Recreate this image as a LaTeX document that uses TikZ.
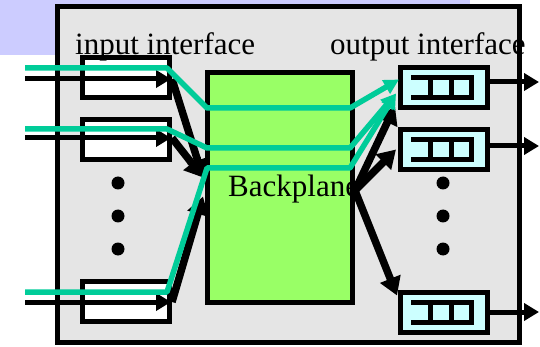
\documentclass[tikz,border=0pt]{standalone}
\usepackage{fontspec}
\setmainfont{Liberation Serif}
\usetikzlibrary{arrows.meta,positioning,calc}
\definecolor{lavender}{RGB}{204,204,255}
\definecolor{panelgray}{RGB}{229,229,229}
\definecolor{planegreen}{RGB}{153,255,102}
\definecolor{queuecyan}{RGB}{204,255,255}
\definecolor{flowteal}{RGB}{0,204,153}

\begin{document}
\begin{tikzpicture}[x=1pt,y=-1pt,
  inbox/.style={draw,line width=5pt,fill=white,minimum width=87pt,minimum height=40pt,inner sep=0pt},
  outbox/.style={draw,line width=5pt,fill=queuecyan,minimum width=87pt,minimum height=40pt,inner sep=0pt},
  bigtext/.style={font=\fontsize{31}{34}\selectfont,anchor=base west,inner sep=0pt},
  thinarrow/.style={line width=5pt,-{Triangle[length=15pt,width=17pt]}},
  fatarrow/.style={line width=7.5pt,-{Triangle[length=18pt,width=21pt]}},
  flow/.style={flowteal,line width=5.5pt,line join=round,-{Triangle[length=15pt,width=15pt]}}]
  \useasboundingbox (0,0) rectangle (540,347);
  % background and router panel
  \fill[lavender] (0,0) rectangle (470,55);
  \draw[line width=5pt,fill=panelgray] (57.5,7) rectangle (519.5,342.5);
  \node[draw,line width=5pt,fill=planegreen,minimum width=145pt,minimum height=230pt] (bp) at (280,187.5) {};
  \node[bigtext] (bplabel) at (228,197) {Backplane};
  % input and output ports
  \foreach \i/\y in {1/77.5,2/140,3/301.5}
    \node[inbox] (in\i) at (126,\y) {};
  \foreach \i/\y in {1/87.5,2/149.5,3/312}{
    \node[outbox] (o\i) at (444,\y) {};
    \draw[line width=5pt] ($(o\i)+(-33,-9.5)$) -- ++(60,0) -- ++(0,20) -- ++(-60,0);
    \draw[line width=5pt] ($(o\i)+(-14,-9.5)$) -- ++(0,20);
    \draw[line width=5pt] ($(o\i)+(7,-9.5)$) -- ++(0,20);
  }
  \foreach \y in {183,216,249}{
    \fill (118,\y) circle (6.5pt);
    \fill (443,\y) circle (6.5pt);
  }
  % line cards in and out
  \coordinate (entry1) at (25,79);
  \coordinate (entry2) at (25,138);
  \coordinate (entry3) at (25,302);
  \coordinate (exit1) at (539,82);
  \coordinate (exit2) at (539,146);
  \coordinate (exit3) at (539,312);
  \foreach \i in {1,2,3}{
    \draw[thinarrow] (entry\i) -- ([xshift=-1pt]in\i.east |- entry\i);
    \draw[thinarrow] (o\i.east |- exit\i) -- (exit\i);
  }
  % through the switch fabric
  \coordinate (bpin1) at ($(bp.west)+(-2,-10)$);
  \coordinate (bpin2) at ($(bp.west)+(-2,9)$);
  \coordinate (bpout) at ($(bp.east)+(0,3)$);
  \draw[fatarrow] (in1.east |- entry1) -- (bpin1);
  \draw[fatarrow] (in2.east |- entry2) -- (bpin1);
  \draw[fatarrow] (in3.east |- entry3) -- (bpin2);
  \draw[fatarrow] (bpout) -- ($(o1.south west)+(-3,-4)$);
  \draw[fatarrow] (bpout) -- ($(o2.west)+(-2,0)$);
  \draw[fatarrow] (bpout) -- ($(o3.north west)+(-1,6)$);
  % packet paths
  \coordinate (q1) at ($(o1.west)+(1,-8)$);
  \coordinate (q2) at ($(o1.west)+(-2,6)$);
  \foreach \i/\ya/\yb/\tip in {3/292/168/q2,2/129/148/q2,1/68/108/q1}{
    \coordinate (tin\i) at (25,\ya);
    \draw[flow] (tin\i) -- (167,\ya) -- (207,\yb) -- (350,\yb) -- (\tip);
  }
  \node[bigtext] (inlabel) at (75,55) {input interface};
  \node[bigtext] (outlabel) at (330,55) {output interface};
\end{tikzpicture}
\end{document}
